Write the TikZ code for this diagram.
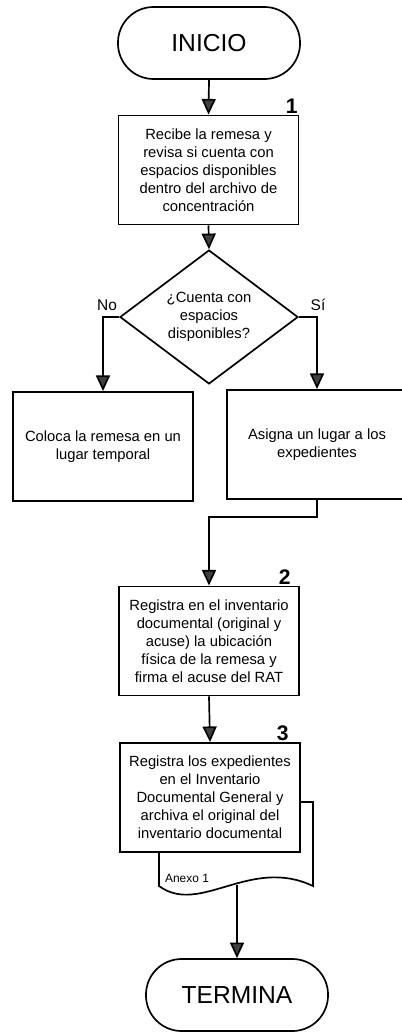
\documentclass[tikz,border=0pt]{standalone}
\usepackage{fontspec}
\setmainfont{Liberation Sans}
\usetikzlibrary{shapes.geometric}
\usetikzlibrary{arrows.meta}

\begin{document}
\begin{tikzpicture}[x=0.025cm,y=-0.025cm]
      \tikzset{caja/.style={draw=black,line width=1.2pt,fill=white,align=center,inner sep=2pt,
                 minimum width=\anchocaja,minimum height=\altocaja,font=\fontsize{10.5}{12.8}\selectfont},
               terminal/.style={draw=black,line width=1.2pt,fill=white,rounded corners=8.9mm,
                 minimum width=4.55cm,minimum height=1.8cm,font=\fontsize{17.5}{20}\selectfont},
               decision/.style={diamond,draw=black,line width=1.2pt,inner sep=0pt,align=center,
                 minimum width=4.45cm,minimum height=2.75cm,font=\fontsize{10.5}{12.8}\selectfont},
               flecha/.style={line width=1.2pt,-{Triangle[length=3.9mm,width=3.5mm,fill=black!75]}},
               num/.style={inner sep=0pt,anchor=south east,font=\fontsize{15}{15}\selectfont\bfseries},
               rama/.style={inner sep=0pt,font=\fontsize{11}{13}\selectfont}}
      \def\anchocaja{4.5cm}
      \def\altocaja{2.73cm}
      \useasboundingbox (0,0) rectangle (401,1032);

\node[terminal] (inicio) at (209,43) {INICIO};
\node[caja] (recibe) at (208.5,170) {Recibe la remesa y\\revisa si cuenta con\\espacios disponibles\\dentro del archivo de\\concentración};
\node[num] (n1) at (298,114) {1};
\node[decision] (cuenta) at (209,317) {¿Cuenta con\\espacios\\disponibles?};
\node[rama] (no) at (107,305) {No};
\node[rama] (si) at (318,305) {Sí};
\node[caja] (coloca) at (103,446.5) {Coloca la remesa en un\\lugar temporal};
\node[caja] (asigna) at (317,444.5) {Asigna un lugar a los\\expedientes};
\node[caja] (registra) at (209,641) {Registra en el inventario\\documental (original y\\acuse) la ubicación\\física de la remesa y\\firma el acuse del RAT};
\node[num] (n2) at (291,585) {2};

% hoja del anexo detras de la caja 3
\draw[line width=1.2pt,fill=white] (159,802) -- (313,802) -- (313,886)
      .. controls (250,856) and (200,916) .. (159,886) -- cycle;
\coordinate (anexo) at (237,885);
\node[inner sep=0pt,font=\fontsize{8.5}{10}\selectfont] (anexo1) at (187,878) {Anexo 1};

\node[caja] (archiva) at (210,797.5) {Registra los expedientes\\en el Inventario\\Documental General y\\archiva el original del\\inventario documental};
\node[num] (n3) at (289,741) {3};
\node[terminal] (termina) at (237,995) {TERMINA};

\foreach \p/\q in {inicio/recibe,recibe/cuenta,registra/archiva}
		\draw[flecha] (\p.south) -- (\q.north);
\draw[flecha] (cuenta.west) -| (coloca.north);
\draw[flecha] (cuenta.east) -| (asigna.north);
\draw[flecha] (asigna.south) -- ++(0,17) -| (registra.north);
\draw[flecha] (anexo) -- (termina.north);
   
    \end{tikzpicture}
\end{document}
